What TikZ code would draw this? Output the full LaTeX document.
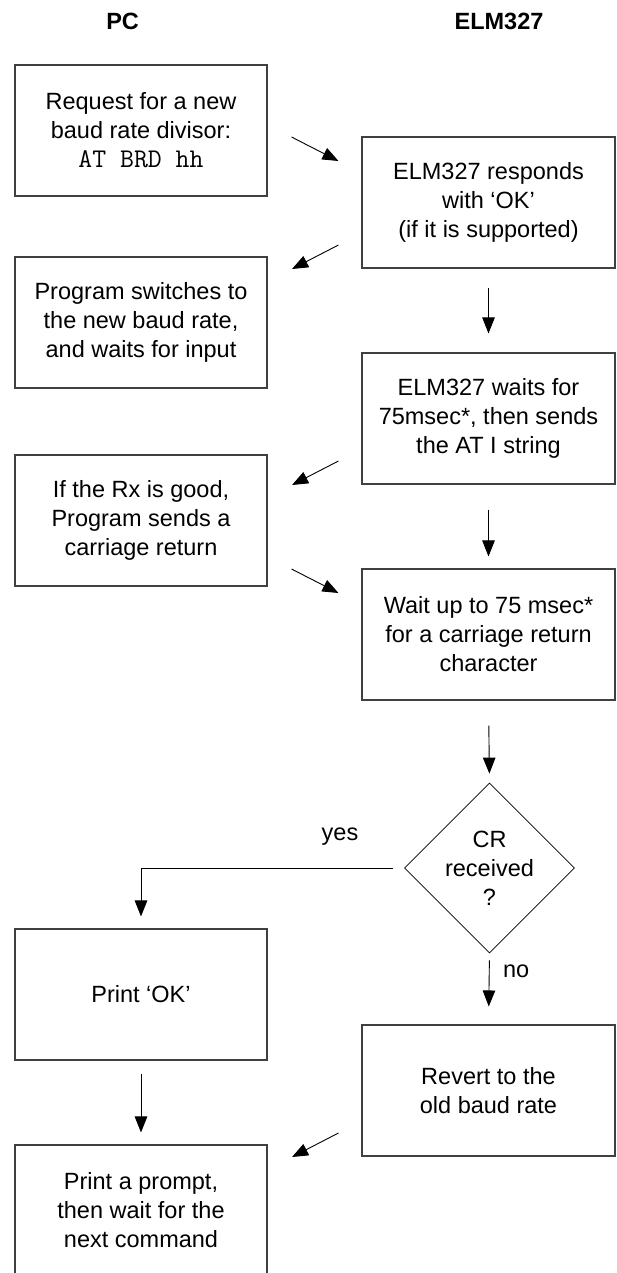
\documentclass[tikz,border=0pt]{standalone}
\usepackage{fontspec}
\setmainfont{Liberation Sans}
\usetikzlibrary{arrows.meta,shapes.geometric}
\begin{document}
\begin{tikzpicture}[x=1pt,y=-1pt,
  txt/.style={font=\fontsize{23.5}{29}\selectfont, align=center},
  box/.style={txt, draw=black!75, line width=1.1pt, rectangle, minimum height=131pt, inner sep=0pt},
  lbox/.style={box, minimum width=252pt},
  rbox/.style={box, minimum width=253pt},
  hdr/.style={font=\fontsize{23.5}{29}\selectfont\bfseries},
  arr/.style={draw=black, line width=0.9pt, -{Triangle[length=16pt,width=12.5pt]}},
  dec/.style={diamond, draw=black, line width=0.8pt, minimum width=170pt, minimum height=170pt, inner sep=0pt, aspect=1}
]
\clip (0,0) rectangle (616,1273);
\fill[white] (0,0) rectangle (616,1273);

\node[hdr] (hpc) at (122.6,21) {PC};
\node[hdr] (helm) at (499,21) {ELM327};

\node[lbox] (L1) at (141,130.5) {Request for a new\\baud rate divisor:\\{\ttfamily\fontsize{27}{29}\selectfont AT BRD hh}};
\node[lbox] (L2) at (141,322.5) {Program switches to\\the new baud rate,\\and waits for input};
\node[lbox] (L3) at (141,520.5) {If the Rx is good,\\Program sends a\\carriage return};
\node[lbox] (L4) at (141,994.5) {Print ‘OK’};
\node[lbox] (L5) at (141,1210.5) {Print a prompt,\\then wait for the\\next command};

\node[rbox] (R1) at (488.5,202.5) {ELM327 responds\\with ‘OK’\\(if it is supported)};
\node[rbox] (R2) at (488.5,418.5) {ELM327 waits for\\75msec*, then sends\\the AT I string};
\node[rbox] (R3) at (488.5,634.5) {Wait up to 75 msec*\\for a carriage return\\character};
\node[dec] (D) at (489.5,868) {};
\node[txt] (Dt) at (489.5,868) {CR\\received\\?};
\node[rbox] (R4) at (488.5,1090.5) {Revert to the\\old baud rate};

% diagonal connectors
\draw[arr] ([shift={(24,6.5)}]L1.east) -- ([shift={(-23,-41.5)}]R1.west);
\draw[arr] ([shift={(-23,42.5)}]R1.west) -- ([shift={(24.5,-53.5)}]L2.east);
\draw[arr] ([shift={(-23,42.5)}]R2.west) -- ([shift={(24.5,-35.5)}]L3.east);
\draw[arr] ([shift={(24,48.5)}]L3.east) -- ([shift={(-23,-41.5)}]R3.west);
\draw[arr] ([shift={(-23,42.5)}]R4.west) -- ([shift={(24.5,-53.5)}]L5.east);

% vertical connectors
\draw[arr, shorten <=19pt, shorten >=19pt] (R1.south) -- (R2.north);
\draw[arr, shorten <=25pt, shorten >=12pt] (R2.south) -- (R3.north);
\draw[arr, shorten <=25pt, shorten >=9pt] (R3.south) -- (D.north);
\draw[arr, shorten <=7pt, shorten >=18pt] (D.south) -- node[txt, anchor=west, pos=0.25, xshift=10pt] (no) {no} (R4.north);
\draw[arr, shorten <=13pt, shorten >=12pt] (L4.south) -- (L5.north);
\draw[arr, shorten <=11.5pt, shorten >=12pt] (D.west) -| (L4.north);
\node[txt] (yes) at (340,837) {yes};
\end{tikzpicture}
\end{document}
